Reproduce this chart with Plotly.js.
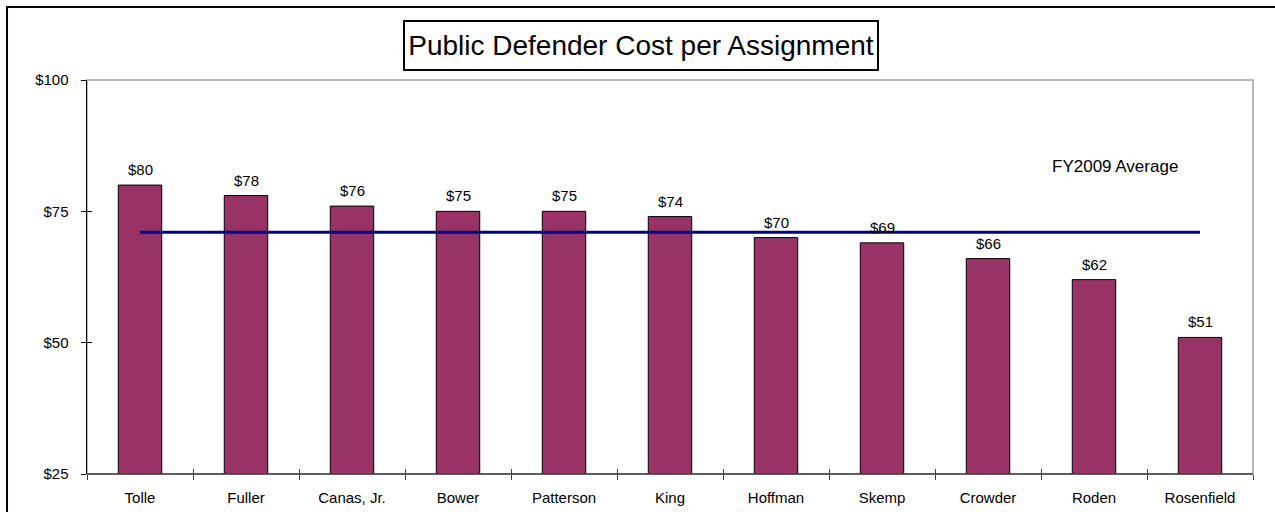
<!DOCTYPE html>
<html>
<head>
<meta charset="utf-8">
<script src="https://cdn.plot.ly/plotly-3.0.1.min.js"></script>
<style>html,body{margin:0;padding:0;background:#fff;}#chart{width:1275px;height:512px;}</style>
</head>
<body>
<div id="chart"></div>
<script>
const categories = ["Tolle","Fuller","Canas, Jr.","Bower","Patterson","King","Hoffman","Skemp","Crowder","Roden","Rosenfield"];
const costPerAssignment = [80,78,76,75,75,74,70,69,66,62,51];
const valueLabels = ["$80","$78","$76","$75","$75","$74","$70","$69","$66","$62","$51"];
const fyAverage = 71;
const yTickValues = [25,50,75,100];
const yTickLabels = ["$25","$50","$75","$100"];

const FONT = "Arial, 'Liberation Sans', sans-serif";

const traces = [
  {
    type: "bar",
    x: categories,
    y: costPerAssignment,
    marker: {color: "#993366", line: {color: "#000000", width: 1}},
    hoverinfo: "skip",
    xaxis: "x", yaxis: "y"
  },
  {
    type: "scatter",
    mode: "lines",
    x: [categories[0], categories[categories.length - 1]],
    y: [fyAverage, fyAverage],
    line: {color: "#000080", width: 3},
    hoverinfo: "skip",
    xaxis: "x", yaxis: "y"
  },
  {
    type: "scatter", mode: "markers",
    x: [0], y: [50], marker: {opacity: 0},
    hoverinfo: "skip", xaxis: "x2", yaxis: "y2"
  }
];

const annotations = categories.map((c, i) => ({
  x: c, y: costPerAssignment[i], xref: "x", yref: "y",
  text: valueLabels[i], showarrow: false,
  yanchor: "bottom", yshift: 5,
  font: {family: FONT, size: 15, color: "#000"}
}));

annotations.push({
  x: 9.2, y: 83.5, xref: "x", yref: "y",
  text: "FY2009 Average", showarrow: false,
  xanchor: "center", yanchor: "middle",
  font: {family: FONT, size: 17, color: "#000"}
});

annotations.push({
  x: 0.475, y: 1.0876, xref: "paper", yref: "paper",
  xanchor: "center", yanchor: "middle",
  text: "Public Defender Cost per Assignment", showarrow: false,
  font: {family: FONT, size: 28, color: "#000"},
  width: 468, height: 43,
  bordercolor: "#000", borderwidth: 2, borderpad: 2, bgcolor: "#fff"
});

const layout = {
  width: 1275, height: 512,
  margin: {l: 87, r: 22, t: 80, b: 38},
  paper_bgcolor: "#fff", plot_bgcolor: "#fff",
  showlegend: false,
  font: {family: FONT, size: 15, color: "#000"},
  xaxis: {
    type: "category",
    range: [-0.5, 10.5],
    showgrid: false, zeroline: false,
    showline: false,
    ticks: "outside", ticklen: 5, tickcolor: "#404040", tickson: "boundaries",
    ticklabelstandoff: 13,
    tickfont: {family: FONT, size: 15, color: "#000"},
    fixedrange: true
  },
  yaxis: {
    range: [25, 100],
    tickvals: yTickValues, ticktext: yTickLabels,
    showgrid: false, zeroline: false,
    showline: true, linecolor: "#000", linewidth: 1.5,
    ticks: "outside", ticklen: 5, tickcolor: "#000",
    ticklabelstandoff: 9,
    tickfont: {family: FONT, size: 15, color: "#000"},
    fixedrange: true
  },
  xaxis2: {
    overlaying: "x", anchor: "y2", range: [-0.5, 10.5],
    tick0: -0.5, dtick: 1, ticks: "inside", ticklen: 5, tickcolor: "#404040",
    showticklabels: false, showgrid: false, zeroline: false, showline: false, fixedrange: true
  },
  yaxis2: {
    overlaying: "y", anchor: "x2", range: [25, 100],
    tickvals: yTickValues, ticks: "inside", ticklen: 5, tickcolor: "#000",
    showticklabels: false, showgrid: false, zeroline: false, showline: false, fixedrange: true
  },
  shapes: [
    {type: "rect", xref: "paper", yref: "paper", x0: 0, x1: 1, y0: 0, y1: 1,
     line: {color: "#a0a0a0", width: 1.5}, layer: "below"},
    {type: "line", xref: "paper", yref: "paper", x0: 0, x1: 1, y0: 0, y1: 0,
     line: {color: "#404040", width: 1.5}, layer: "above"},
    {type: "rect", xref: "paper", yref: "paper", x0: -0.0686, x1: 1.05, y0: -0.2, y1: 1.1853,
     line: {color: "#000", width: 2}, layer: "below"}
  ],
  annotations: annotations,
  bargap: 0.59
};

Plotly.newPlot("chart", traces, layout, {displayModeBar: false, staticPlot: true});
</script>
</body>
</html>
